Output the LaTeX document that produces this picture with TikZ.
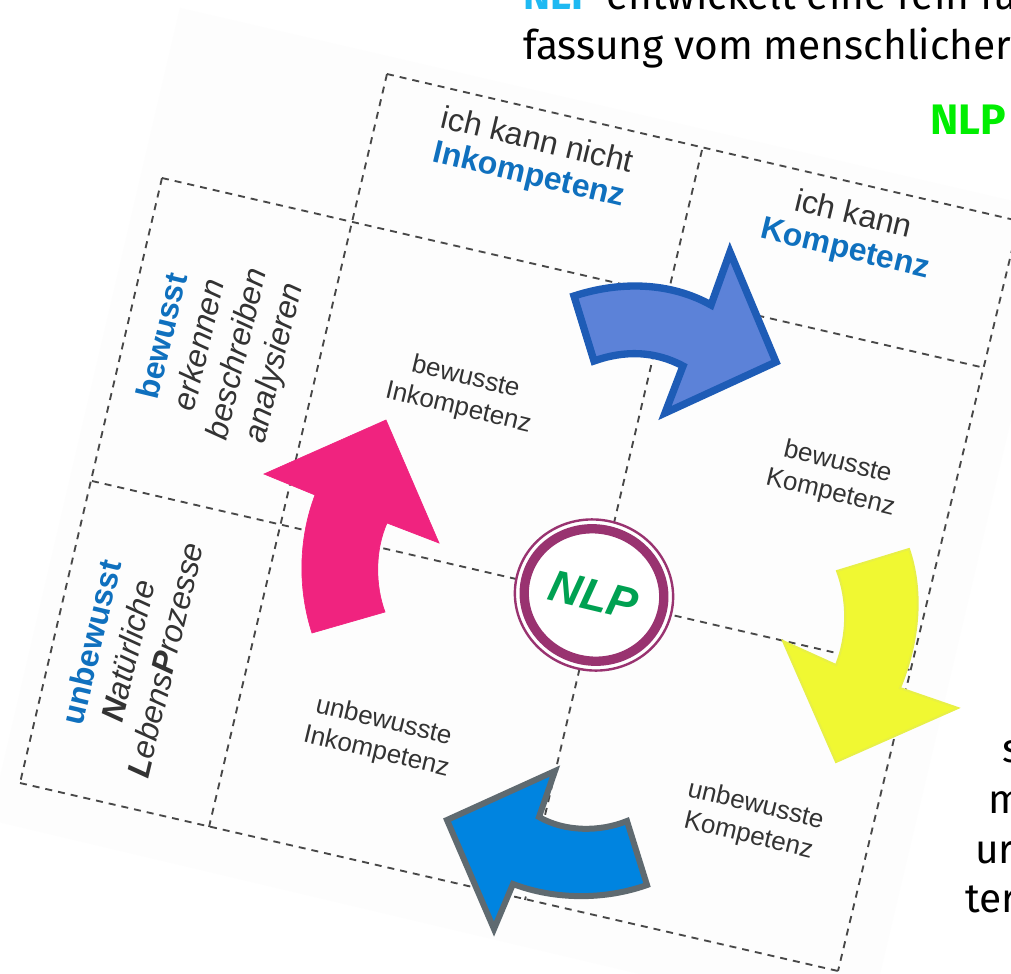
\documentclass[tikz,border=0pt]{standalone}
\usepackage{fontspec}
\setmainfont{Liberation Sans}
\newfontfamily\pageFont{Fira Sans}
\usetikzlibrary{shapes.geometric}
\definecolor{paperTone}{HTML}{FDFDFD}
\definecolor{gridTone}{HTML}{484848}
\definecolor{labelTone}{HTML}{333333}
\definecolor{headTone}{HTML}{0F70BE}
\definecolor{hubTone}{HTML}{993370}
\definecolor{hubText}{HTML}{00A152}
\definecolor{pinkFill}{HTML}{F0237F}
\definecolor{slateFill}{HTML}{5C82D8}
\definecolor{slateLine}{HTML}{1E5CB6}
\definecolor{limeFill}{HTML}{F0F832}
\definecolor{limeLine}{HTML}{E8F046}
\definecolor{skyFill}{HTML}{0084E0}
\definecolor{skyLine}{HTML}{5F6A70}
\definecolor{pageCyan}{HTML}{1FB9F2}
\definecolor{pageGreen}{HTML}{00EE00}
\tikzset{
  gridline/.style={gridTone,line width=1.4pt,dash pattern=on 5.25pt off 4.5pt},
  cornerlabel/.style={labelTone,rotate=-13.5,align=center,inner sep=0pt,font=\fontsize{24pt}{25pt}\selectfont},
  innerlabel/.style={labelTone,rotate=-13.5,align=center,inner sep=0pt,font=\fontsize{19.5pt}{23.5pt}\selectfont},
  sidelabel/.style={labelTone,rotate=76.5,align=center,inner sep=0pt,font=\fontsize{24pt}{28.5pt}\selectfont\itshape},
  pagetext/.style={anchor=base west,inner sep=0pt,black,font=\pageFont\fontsize{30.5pt}{30.5pt}\selectfont}
}
\newcommand{\headWord}[1]{{\color{headTone}\bfseries\upshape #1}}
\begin{document}
\begin{tikzpicture}[x=0.75pt,y=-0.75pt,line join=miter]
      \useasboundingbox (0,0) rectangle (1011,974);
      \clip (0,0) rectangle (1011,974);
      \fill[white] (0,0) rectangle (1011,974);
      \fill[paperTone] (180,8)--(1060,212)--(880,974)--(640,974)--(-10,820)--cycle;% the tilted sheet

      % Corner points of the grid
      \coordinate (h0a) at (387,74);
      \coordinate (h0b) at (1019,221);
      \coordinate (h1a) at (162,178);
      \coordinate (h1b) at (985,368);
      \coordinate (h2a) at (92,481);
      \coordinate (h2b) at (910,670);
      \coordinate (h3a) at (20,783);
      \coordinate (h3b) at (838,971);
      \coordinate (v1b) at (209,827);
      \coordinate (v2a) at (702,150);
      \coordinate (v2b) at (525,900);
      % Draw the dashed lines
      \foreach \from/\to in {h0a/h0b,h1a/h1b,h2a/h2b,h3a/h3b,h1a/h3a,h0a/v1b,v2a/v2b,h0b/h3b}{
          \draw[gridline] (\from)--(\to);
      }

      % Labels of the cells
      \node (topLeft) at (533,159) [cornerlabel] {ich kann nicht\\[1pt]\headWord{Inkompetenz}};
      \node (topRight) at (849,233) [cornerlabel] {ich kann\\[1pt]\headWord{Kompetenz}};
      \foreach \i/\x/\y/\word in {1/462/393/{bewusste\\Inkompetenz},2/834/478/{bewusste\\Kompetenz},3/380/737/{unbewusste\\Inkompetenz},4/752/821/{unbewusste\\Kompetenz}}{
          \node (inner\i) at (\x,\y) [innerlabel] {\word};
      }
      \node (sideTop) at (220,350) [sidelabel] {\headWord{bewusst}\\erkennen\\beschreiben\\analysieren};
      \node (sideLow) at (128,651) [sidelabel] {\headWord{unbewusst}\\\textbf{N}atürliche\\\textbf{L}ebens\textbf{P}rozesse};

      % The four arrows
      \filldraw[fill=pinkFill,draw=pinkFill,line width=0.5pt] (264,474)--(386,420)--(439,543)--(387,523)
          .. controls (375,550) and (375,585) .. (385,612)--(312,633)
          .. controls (298,590) and (298,540) .. (315,495)--cycle;
      \filldraw[fill=slateFill,draw=slateLine,line width=5.5pt] (574,296)
          .. controls (620,281) and (670,282) .. (711,305)--(730,252)--(776,362)--(665,413)--(683,366)
          .. controls (655,351) and (625,350) .. (594,361)--cycle;
      \filldraw[fill=limeFill,draw=limeLine,line width=1.5pt] (837,571)--(909,549)
          .. controls (923,590) and (920,640) .. (900,688)--(958,708)--(836,762)--(783,641)--(836,665)
          .. controls (848,635) and (848,600) .. cycle;
      \filldraw[fill=skyFill,draw=skyLine,line width=4.5pt] (555,771)--(447,820)--(494,929)--(513,884)
          .. controls (555,900) and (605,900) .. (647,885)--(627,821)
          .. controls (600,832) and (565,832) .. (539,817)--cycle;

      % The ring in the middle
      \node (hubOuter) at (594,595) [ellipse,rotate=-13.5,draw=hubTone,fill=white,line width=1.8pt,inner sep=0pt,minimum width=119pt,minimum height=113pt] {};
      \node (hub) at (hubOuter) [ellipse,rotate=-13.5,draw=hubTone,fill=white,line width=7pt,inner sep=0pt,minimum width=105pt,minimum height=99pt,text=hubText,font=\fontsize{33.5pt}{33.5pt}\selectfont\bfseries\itshape] {NLP};

      % Text of the page behind the sheet
      \node (pageOne) at (523,10) [pagetext] {\textcolor{pageCyan}{\bfseries NLP} entwickelt eine rein fu};
      \node (pageTwo) at (523,60) [pagetext] {fassung vom menschlicher};
      \node (pageHead) at (930,135) [pagetext,text=pageGreen,font=\pageFont\fontsize{32pt}{32pt}\selectfont\bfseries] {NLP};
      \foreach \i/\x/\y/\word in {1/1002/762/s,2/988/813/m,3/975/863/ur,4/965/912/ter}{
          \node (pageEnd\i) at (\x,\y) [pagetext] {\word};
      }
    \end{tikzpicture}
\end{document}
